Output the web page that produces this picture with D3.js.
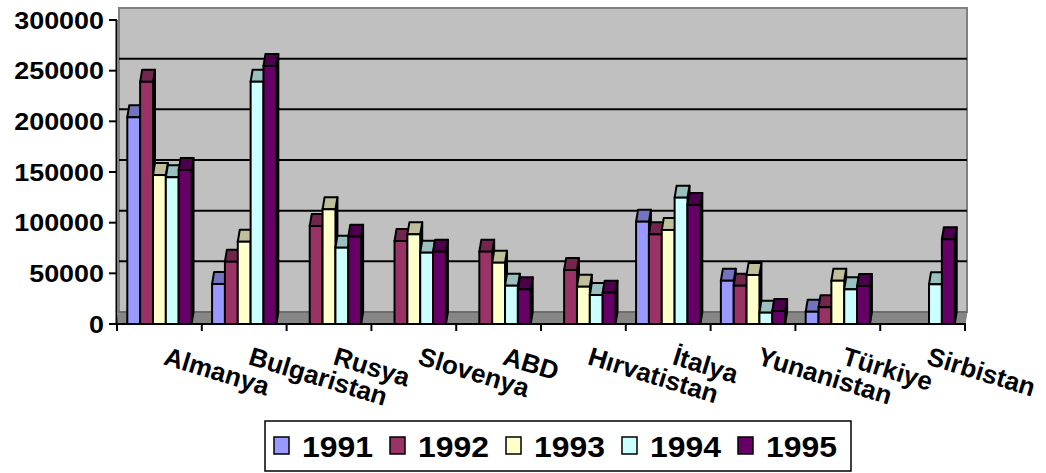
<!DOCTYPE html>
<html>
<head>
<meta charset="utf-8">
<script src="https://cdn.jsdelivr.net/npm/d3@7"></script>
<style>
  html, body { margin: 0; padding: 0; background: #ffffff; }
  svg { display: block; }
  text { font-family: "Liberation Sans", Arial, sans-serif; font-weight: bold; fill: #000; }
</style>
</head>
<body>
<svg id="chart" width="1046" height="473"></svg>
<script>
// ---------- data ----------
const categories = ["Almanya", "Bulgaristan", "Rusya", "Slovenya", "ABD", "Hırvatistan", "İtalya", "Yunanistan", "Türkiye", "Sirbistan"];
const years = ["1991", "1992", "1993", "1994", "1995"];
const v1991 = [204000, 39500, null, null, null, null, 101000, 42700, 12100, null];
const v1992 = [239000, 61500, 96700, 81900, 71400, 53300, 88500, 37800, 16500, null];
const v1993 = [147000, 81200, 113200, 88500, 60500, 36800, 92800, 48400, 42700, null];
const v1994 = [144800, 239100, 75300, 70400, 37800, 28600, 124700, 11200, 34200, 39200];
const v1995 = [152000, 254600, 86200, 71400, 34200, 30900, 117400, 12800, 37500, 83600];
const yTicks = [0, 50000, 100000, 150000, 200000, 250000, 300000];

const seriesValues = [v1991, v1992, v1993, v1994, v1995];
const frontColors = ["#9999ff", "#993366", "#ffffcc", "#ccffff", "#660066"];
const topColors   = ["#7373bf", "#73264c", "#bfbf99", "#99bfbf", "#4c004c"];

// ---------- layout ----------
const svg = d3.select("#chart");
const X0 = 117, X1 = 965, Y0 = 324, YTOP = 20;
const DX = 2, DY = 12; // depth offset

const x = d3.scaleBand().domain(categories).range([X0, X1]).paddingInner(0).paddingOuter(0);
const xs = d3.scaleBand().domain(years).range([0, x.bandwidth()]).paddingInner(0).paddingOuter(0.8);
const y = d3.scaleLinear().domain([0, 300000]).range([Y0, YTOP]);

// back wall
svg.append("path")
  .attr("d", `M${X0 + DX},${y(300000) - DY} L${X1 + DX},${y(300000) - DY} L${X1 + DX},${Y0 - DY} L${X0 + DX},${Y0 - DY} Z`)
  .attr("fill", "#c0c0c0").attr("stroke", "#808080").attr("stroke-width", 2);

// floor
svg.append("path")
  .attr("d", `M${X0},${Y0} L${X1},${Y0} L${X1 + DX},${Y0 - DY} L${X0 + DX},${Y0 - DY} Z`)
  .attr("fill", "#868686").attr("stroke", "#808080").attr("stroke-width", 1);

// gridlines on the back wall
svg.append("g").selectAll("line")
  .data(yTicks.filter(t => t > 0 && t < 300000))
  .join("line")
  .attr("x1", X0 + DX).attr("x2", X1 + DX)
  .attr("y1", d => y(d) - DY).attr("y2", d => y(d) - DY)
  .attr("stroke", "#000").attr("stroke-width", 2);
svg.append("line")
  .attr("x1", X0 + DX).attr("x2", X1 + DX)
  .attr("y1", y(0) - DY).attr("y2", y(0) - DY)
  .attr("stroke", "#666").attr("stroke-width", 1.5);

// bars
const bars = [];
categories.forEach((c, ci) => {
  years.forEach((yr, si) => {
    const v = seriesValues[si][ci];
    if (v == null) return;
    bars.push({ c, yr, si, v });
  });
});

const gBars = svg.append("g");
bars.forEach(b => {
  const bx = x(b.c) + xs(b.yr);
  const bw = xs.bandwidth();
  const by = y(b.v);
  const g = gBars.append("g");
  g.append("path")
    .attr("d", `M${bx + bw},${by} L${bx + bw + DX},${by - DY} L${bx + bw + DX},${Y0 - DY} L${bx + bw},${Y0} Z`)
    .attr("fill", topColors[b.si]).attr("stroke", "#000").attr("stroke-width", 2).attr("stroke-linejoin", "round");
  g.append("path")
    .attr("d", `M${bx},${by} L${bx + bw},${by} L${bx + bw + DX},${by - DY} L${bx + DX},${by - DY} Z`)
    .attr("fill", topColors[b.si]).attr("stroke", "#000").attr("stroke-width", 2).attr("stroke-linejoin", "round");
  g.append("rect")
    .attr("x", bx).attr("y", by).attr("width", bw).attr("height", Y0 - by)
    .attr("fill", frontColors[b.si]).attr("stroke", "#000").attr("stroke-width", 2);
});

// y axis
const yAxisG = svg.append("g");
yAxisG.append("line").attr("x1", X0 - 0.5).attr("x2", X0 - 0.5).attr("y1", y(300000)).attr("y2", Y0)
  .attr("stroke", "#000").attr("stroke-width", 2);
yAxisG.selectAll("line.tick").data(yTicks).join("line").attr("class", "tick")
  .attr("x1", X0 - 8).attr("x2", X0).attr("y1", d => y(d)).attr("y2", d => y(d))
  .attr("stroke", "#000").attr("stroke-width", 2);
yAxisG.selectAll("g.lab").data(yTicks).join("g").attr("class", "lab")
  .attr("transform", d => `translate(104,${y(d) + 8.5}) scale(1.17,1)`)
  .append("text").attr("text-anchor", "end").attr("font-size", 23).text(d => d);

// x axis
const xAxisG = svg.append("g");
xAxisG.append("line").attr("x1", X0 - 1).attr("x2", X1 + 1).attr("y1", Y0).attr("y2", Y0)
  .attr("stroke", "#000").attr("stroke-width", 2);
const bounds = categories.map(c => x(c)).concat([X1]);
xAxisG.selectAll("line.tick").data(bounds).join("line").attr("class", "tick")
  .attr("x1", d => d).attr("x2", d => d).attr("y1", Y0).attr("y2", Y0 + 7)
  .attr("stroke", "#000").attr("stroke-width", 2);
xAxisG.selectAll("g.lab").data(categories).join("g").attr("class", "lab")
  .attr("transform", c => `translate(${x(c) + x.bandwidth() / 2 + 3},364) rotate(17)`)
  .append("text").attr("text-anchor", "start").attr("font-size", 26).text(c => c);

// legend
const lg = svg.append("g");
lg.append("rect").attr("x", 265).attr("y", 421).attr("width", 586).attr("height", 50)
  .attr("fill", "#fff").attr("stroke", "#000").attr("stroke-width", 1.5);
const lx = d3.scalePoint().domain(years).range([274, 738]);
const items = lg.selectAll("g.item").data(years).join("g").attr("class", "item")
  .attr("transform", d => `translate(${lx(d)},0)`);
items.append("rect").attr("x", 0).attr("y", 437).attr("width", 15).attr("height", 17)
  .attr("fill", (d, i) => frontColors[i]).attr("stroke", "#000").attr("stroke-width", 1.5);
items.append("g").attr("transform", "translate(28,456.5) scale(1.1,1)")
  .append("text").attr("font-size", 29).text(d => d);
</script>
</body>
</html>
